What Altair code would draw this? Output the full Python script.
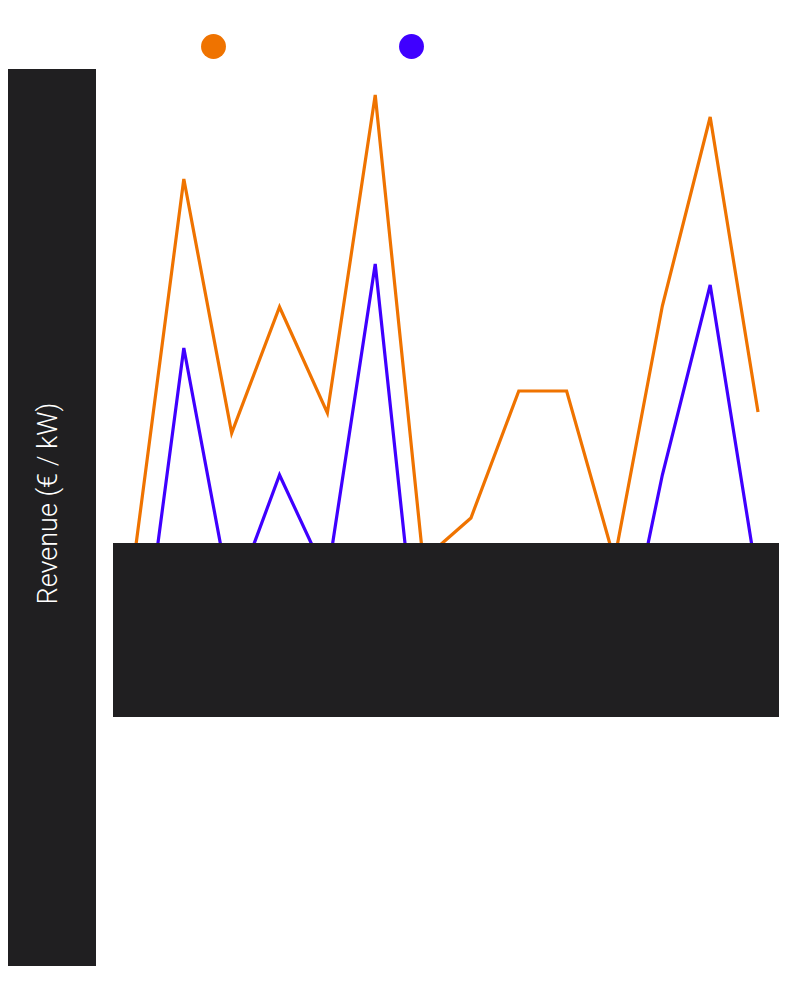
import altair as alt
import pandas as pd

# ---- data ----
periods = [str(y) for y in range(2011, 2025)]
series_names = ["Gross revenue", "Net revenue"]
gross = [1.5, 38.1, 12.7, 25.3, 14.7, 46.5, 0.0, 4.2, 16.9, 16.9, 0.0, 25.4, 44.3, 14.8]
net = [-14.9, 21.2, -4.4, 8.5, -1.8, 29.6, -15.3, -10.0, -6.0, -8.0, -14.5, 8.5, 27.5, -2.4]
colors = ["#ef7300", "#3f00ff"]
y_title = "Revenue (€ / kW)"

rows = []
for p, g, n in zip(periods, gross, net):
    rows.append({"period": p, "series": series_names[0], "value": g})
    rows.append({"period": p, "series": series_names[1], "value": n})
df = pd.DataFrame(rows)

dark = "#201f21"

x = alt.X("period:O", scale=alt.Scale(type="point", padding=0.48), axis=None)
y = alt.Y(
    "value:Q",
    scale=alt.Scale(domain=[-15.7, 49.1], nice=False, zero=False),
    axis=alt.Axis(
        title=y_title, labels=False, ticks=False, domain=False, grid=False,
        titleColor="white", titleFont="Roboto", titleFontWeight=300, titleFontSize=27,
        titleX=-65, titleY=434, titleBaseline="middle", titleAlign="center", zindex=1,
    ),
)
color = alt.Color(
    "series:N",
    scale=alt.Scale(domain=series_names, range=colors),
    legend=alt.Legend(
        title=None, orient="none", legendX=88, legendY=-35, direction="horizontal",
        symbolType="circle", symbolSize=620, labelColor="white", labelFontSize=14,
        columnPadding=77, symbolStrokeWidth=0,
    ),
)

base = alt.Chart(df)
dots = base.mark_circle(opacity=1).encode(x=x, y=y, color=color, size=alt.value(0))
lines = base.mark_line(strokeWidth=3.2, clip=True).encode(x=x, y=y, color=color)

box = pd.DataFrame({"k": [0]})
bottom_rect = alt.Chart(box).mark_rect(color=dark).encode(
    x=alt.value(0), x2=alt.value(666), y=alt.value(474), y2=alt.value(648)
)
left_rect = alt.Chart(box).mark_rect(color=dark).encode(
    x=alt.value(-113), x2=alt.value(-17), y=alt.value(0), y2=alt.value(897)
)

chart = alt.layer(dots, lines, bottom_rect, left_rect).properties(
    width=668, height=648,
    padding={"left": 105, "top": 61, "right": 5, "bottom": 260},
    autosize="none",
    background="white",
).configure_view(stroke=None)

chart.save("out.html", embed_options={"renderer": "svg", "actions": False})
